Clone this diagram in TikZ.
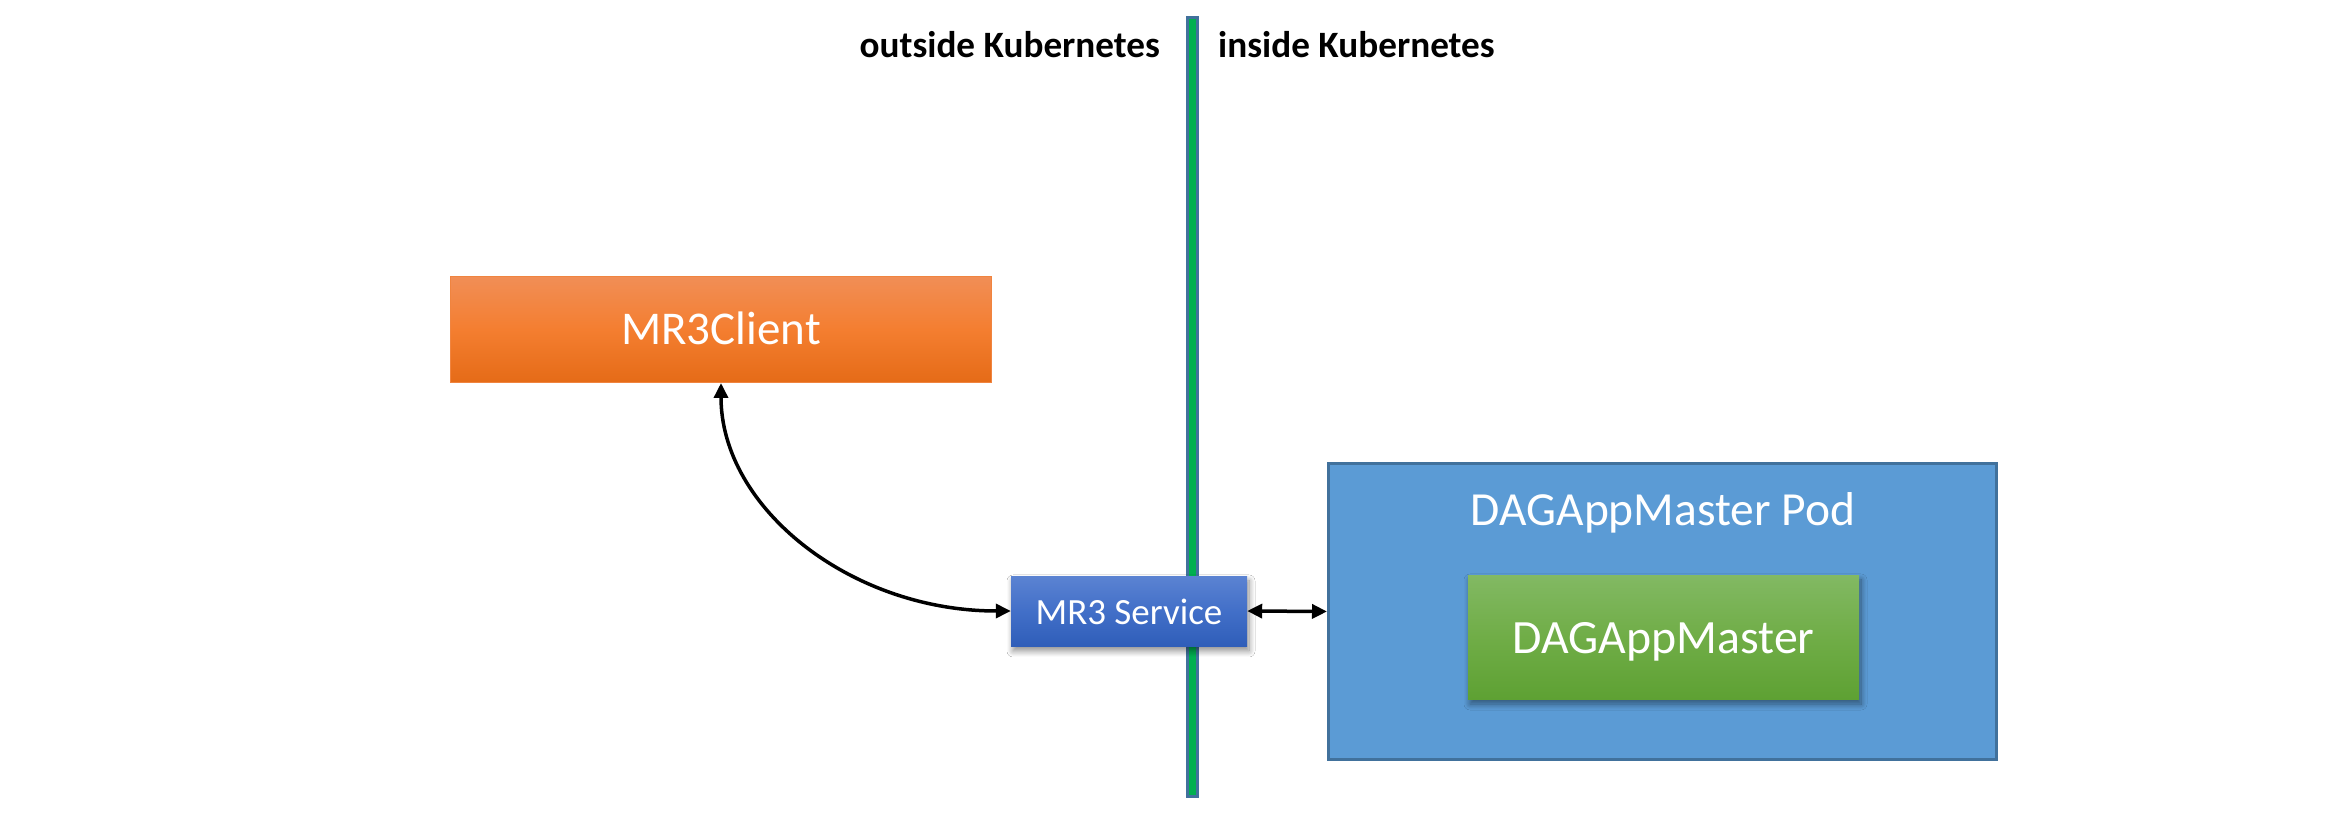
\documentclass[tikz,border=0pt]{standalone}
\usepackage{fontspec}
\setmainfont{Carlito}
\usetikzlibrary{arrows.meta,shadows.blur}
\definecolor{orTop}{HTML}{F18E56}
\definecolor{orMid}{HTML}{F47E30}
\definecolor{orBot}{HTML}{E56B17}
\definecolor{orEdge}{HTML}{F0843F}
\definecolor{svTop}{HTML}{5B83D2}
\definecolor{svMid}{HTML}{426FC8}
\definecolor{svBot}{HTML}{2F5EB9}
\definecolor{gnTop}{HTML}{82B963}
\definecolor{gnMid}{HTML}{70AD47}
\definecolor{gnBot}{HTML}{5EA133}
\definecolor{podFill}{HTML}{5B9BD5}
\definecolor{podEdge}{HTML}{41719C}
\definecolor{kGreen}{HTML}{00B050}
\begin{document}
\begin{tikzpicture}[x=1pt,y=1pt,
  boxtext/.style={rectangle, inner sep=0pt, text=white, font=\fontsize{47.5}{56}\selectfont},
  lbl/.style={inner sep=0pt, font=\bfseries\fontsize{37.2}{44}\selectfont},
  softshadow/.style={blur shadow={shadow xshift=2pt, shadow yshift=-5pt, shadow blur radius=6pt, shadow blur steps=10, shadow opacity=45}},
  conn/.style={line width=3.5pt, {Triangle[length=15pt,width=14pt]}-{Triangle[length=15pt,width=14pt]}}
]
\useasboundingbox (0,0) rectangle (2335,815);
\fill[white] (0,0) rectangle (2335,815);

% boundary line
\node[draw=podEdge, line width=3pt, fill=kGreen, minimum width=10pt, minimum height=779pt, inner sep=0pt] (kline) at (1192.5,408) {};

% labels
\node[lbl, anchor=base east] (outl) at (1160,757) {outside Kubernetes};
\node[lbl, anchor=base west] (inl) at (1218,757) {inside Kubernetes};

% MR3Client
\node[boxtext, draw=orEdge, line width=1pt, top color=orTop, bottom color=orBot, middle color=orMid,
      font=\fontsize{47}{56}\selectfont, text height=31pt, text depth=0pt,
      minimum width=541pt, minimum height=106pt] (client) at (721,485.5) {MR3Client};

% Pod
\node[rectangle, inner sep=0pt, draw=podEdge, line width=3pt, fill=podFill,
      minimum width=668pt, minimum height=296pt] (pod) at (1662.5,203.5) {};
\node[boxtext, anchor=base] (podt) at (1663,290) {DAGAppMaster Pod};

% DAGAppMaster
\node[boxtext, softshadow, top color=gnTop, bottom color=gnBot, middle color=gnMid,
      font=\fontsize{47.8}{56}\selectfont, text height=32pt, text depth=0pt,
      minimum width=391pt, minimum height=124pt] (dag) at (1663.5,178) {DAGAppMaster};

% MR3 Service
\node[boxtext, softshadow, top color=svTop, bottom color=svBot, middle color=svMid,
      font=\fontsize{37}{44}\selectfont, text height=26pt, text depth=0pt,
      minimum width=236pt, minimum height=70pt] (svc) at (1129,204) {MR3 Service};

% connectors
\draw[conn] (client.south) .. controls +(0,-125) and +(-160,0) .. (svc.west);
\draw[conn] (svc.east) -- (pod.west);
\end{tikzpicture}
\end{document}
